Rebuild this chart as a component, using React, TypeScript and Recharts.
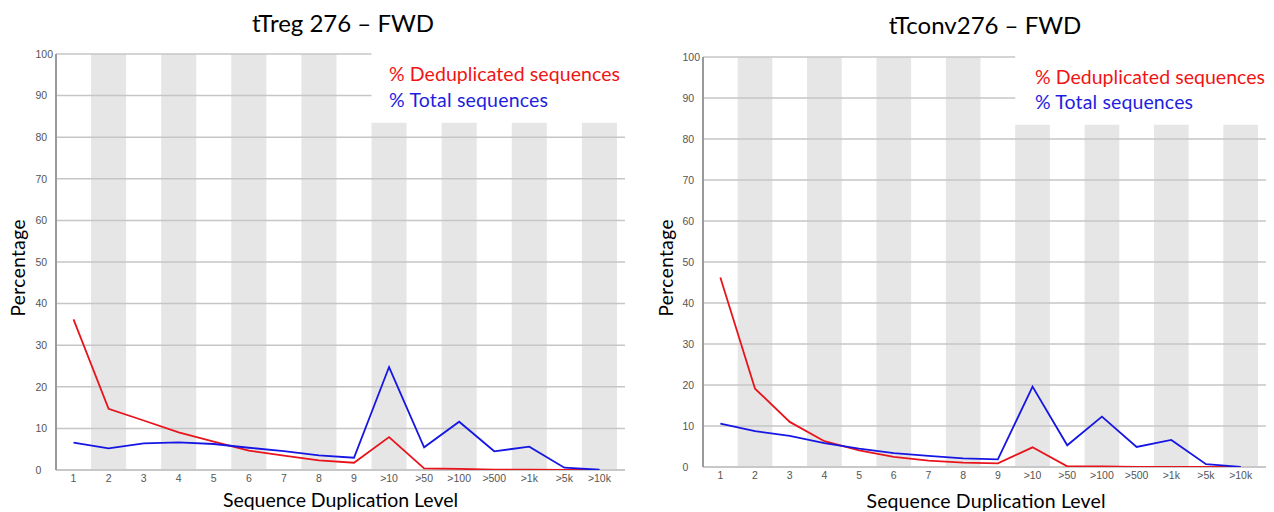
import React from 'react';
import { LineChart, Line, XAxis, YAxis, ReferenceArea, ReferenceLine } from 'recharts';

// Duplication level categories shown on the x axis
const levels = ['1', '2', '3', '4', '5', '6', '7', '8', '9', '>10', '>50', '>100', '>500', '>1k', '>5k', '>10k'];
const yTicks = [0, 10, 20, 30, 40, 50, 60, 70, 80, 90, 100];

// tTreg 276 – FWD
const tregDedup = [36.2, 14.7, 11.9, 9.05, 6.8, 4.65, 3.45, 2.3, 1.75, 7.9, 0.4, 0.25, 0.1, 0.1, 0.05, 0];
const tregTotal = [6.6, 5.2, 6.4, 6.65, 6.25, 5.35, 4.55, 3.5, 2.95, 24.75, 5.45, 11.6, 4.5, 5.6, 0.55, 0.07];

// tTconv276 – FWD
const tconvDedup = [46.2, 19.1, 11.0, 6.3, 4.05, 2.45, 1.55, 1.05, 0.9, 4.8, 0.15, 0.15, 0.05, 0.03, 0.02, 0];
const tconvTotal = [10.6, 8.75, 7.6, 5.85, 4.5, 3.4, 2.7, 2.1, 1.85, 19.6, 5.3, 12.3, 4.9, 6.6, 0.7, 0.05];

const RED = '#e8141c';
const BLUE = '#1616e4';
const GRID = '#c6c6c6';
const BAND = '#e6e6e6';
const TICK_FONT = '"Liberation Sans", Arial, sans-serif';
const TITLE_FONT = 'Lato, "Open Sans", sans-serif';

const LEGEND_BOTTOM = 83.5; // lower edge of the legend box, in percent
const LEGEND_START = 8.5; // legend box starts at the ">10" column
const X_DOMAIN: [number, number] = [-0.5, 15.73]; // a little free space after the last column

type ChartProps = {
  dedup: number[];
  total: number[];
  margin: { top: number; right: number; bottom: number; left: number };
};

const YTick = (props: any) => {
  const { x, y, payload } = props;
  return (
    <text x={x - 20.5} y={y} dy="0.36em" textAnchor="start" fontSize={10.5} fontFamily={TICK_FONT} fill="#555555">
      {payload.value}
    </text>
  );
};

const XTick = (props: any) => {
  const { x, y, payload } = props;
  return (
    <text x={x} y={y} dy="0.71em" textAnchor="middle" fontSize={10.5} fontFamily={TICK_FONT} fill="#555555">
      {levels[payload.value]}
    </text>
  );
};

function DupChart({ dedup, total, margin }: ChartProps) {
  const data = levels.map((level, i) => ({ idx: i, level, dedup: dedup[i], total: total[i] }));
  const bandIdx = levels.map((_, i) => i).filter((i) => i % 2 === 1);
  return (
    <LineChart width={637} height={512} data={data} margin={margin}>
      <XAxis
        type="number"
        dataKey="idx"
        domain={X_DOMAIN}
        allowDataOverflow={true}
        ticks={levels.map((_, i) => i)}
        interval={0}
        height={30}
        tickLine={false}
        tickSize={2}
        tickMargin={3}
        axisLine={false}
        tick={<XTick />}
      />
      <YAxis
        type="number"
        domain={[0, 100]}
        allowDataOverflow={true}
        ticks={yTicks}
        interval={0}
        width={50}
        tickLine={false}
        tickSize={0}
        tickMargin={0}
        axisLine={{ stroke: '#9a9a9a', strokeWidth: 2 }}
        tick={<YTick />}
      />
      {bandIdx.map((i) => (
        <ReferenceArea
          key={`band-${i}`}
          x1={i - 0.5}
          x2={i + 0.5}
          y1={0}
          y2={i > LEGEND_START ? LEGEND_BOTTOM : 100}
          fill={BAND}
          fillOpacity={1}
          stroke="none"
        />
      ))}
      {yTicks
        .filter((v) => v > 0)
        .map((v) =>
          v > LEGEND_BOTTOM ? (
            <ReferenceLine
              key={`grid-${v}`}
              segment={[
                { x: X_DOMAIN[0], y: v },
                { x: LEGEND_START, y: v },
              ]}
              stroke={GRID}
              strokeWidth={1.5}
            />
          ) : (
            <ReferenceLine key={`grid-${v}`} y={v} stroke={GRID} strokeWidth={1.5} />
          )
        )}
      {/* baseline drawn beneath the series so values at 0 stay visible */}
      <ReferenceLine y={0} stroke="#c8c8c8" strokeWidth={2} />
      <Line type="linear" dataKey="dedup" stroke={RED} strokeWidth={1.8} dot={false} isAnimationActive={false} />
      <Line type="linear" dataKey="total" stroke={BLUE} strokeWidth={1.8} dot={false} isAnimationActive={false} />
    </LineChart>
  );
}

export default function App() {
  return (
    <div style={{ position: 'absolute', left: 0, top: 0, width: 1274, height: 512, background: '#fff' }}>
      <div style={{ position: 'absolute', left: 0, top: 0 }}>
        <DupChart dedup={tregDedup} total={tregTotal} margin={{ top: 54, right: 12, bottom: 12, left: 6 }} />
      </div>
      <div style={{ position: 'absolute', left: 637, top: 0 }}>
        <DupChart dedup={tconvDedup} total={tconvTotal} margin={{ top: 57, right: 8, bottom: 15, left: 16 }} />
      </div>
      <svg
        width={1274}
        height={512}
        style={{ position: 'absolute', left: 0, top: 0, pointerEvents: 'none' }}
        fontFamily={TITLE_FONT}
      >
        <text x={343} y={32} textAnchor="middle" fontSize={24} fill="#000">tTreg 276 – FWD</text>
        <text x={985} y={33.5} textAnchor="middle" fontSize={24} fill="#000">tTconv276 – FWD</text>

        <text x={389} y={81} fontSize={19.5} textLength={231} fill="#f01414">% Deduplicated sequences</text>
        <text x={389} y={107} fontSize={19.5} textLength={159} fill="#1e1ee0">% Total sequences</text>
        <text x={1035} y={83.5} fontSize={19.5} textLength={230} fill="#f01414">% Deduplicated sequences</text>
        <text x={1035} y={108.5} fontSize={19.5} textLength={158} fill="#1e1ee0">% Total sequences</text>

        <text x={340.5} y={507} textAnchor="middle" fontSize={19.5} textLength={235} fill="#000">Sequence Duplication Level</text>
        <text x={986} y={508} textAnchor="middle" fontSize={19.5} textLength={239} fill="#000">Sequence Duplication Level</text>

        <text x={25} y={268} transform="rotate(-90 25 268)" textAnchor="middle" fontSize={19} textLength={97} fill="#000">Percentage</text>
        <text x={672.5} y={268} transform="rotate(-90 672.5 268)" textAnchor="middle" fontSize={19} textLength={97} fill="#000">Percentage</text>
      </svg>
    </div>
  );
}
